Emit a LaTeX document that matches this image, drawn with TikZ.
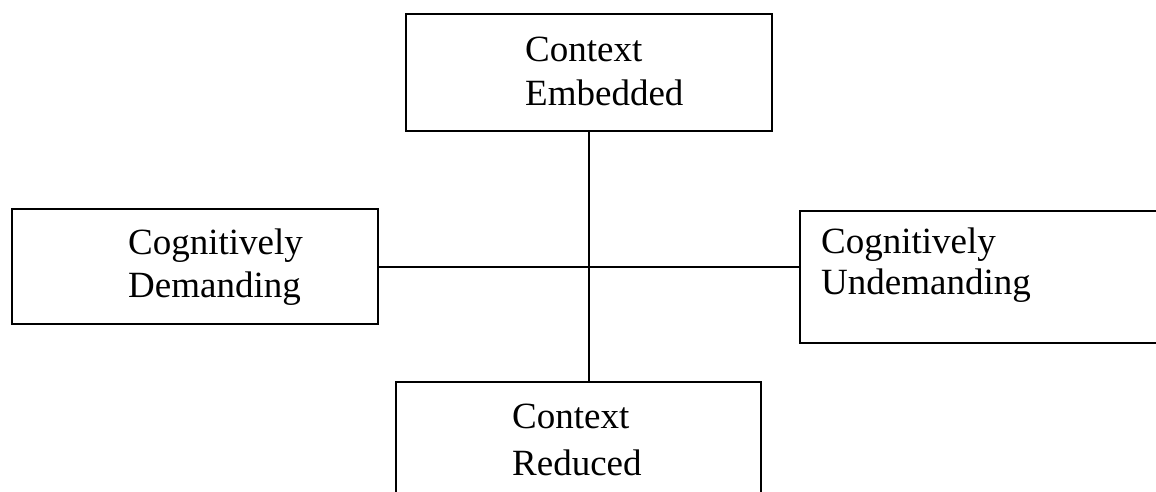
\documentclass[tikz,border=0pt]{standalone}
\usepackage{fontspec}
\setmainfont{Liberation Serif}
\begin{document}
\begin{tikzpicture}[x=1pt,y=-1pt,
  box/.style={draw, line width=2pt, rectangle, inner sep=0pt, outer sep=0pt},
  label/.style={align=left, anchor=base west, inner sep=0pt, font=\fontsize{37}{41}\selectfont},
  link/.style={line width=2pt}]
\useasboundingbox (0,0) rectangle (1156,492);
\clip (0,0) rectangle (1156,492);
\node[box, minimum width=366pt, minimum height=117pt] (top) at (589,72.5) {};
\node[box, minimum width=366pt, minimum height=115pt] (left) at (195,266.5) {};
\node[box, minimum width=370pt, minimum height=132pt] (right) at (985,277) {};
\node[box, minimum width=365pt, minimum height=128pt] (bottom) at (578.5,446) {};
\node[label] (toptext) at (525,106) {Context\\[3pt]Embedded};
\node[label] (lefttext) at (128,297) {Cognitively\\[2pt]Demanding};
\node[label] (righttext) at (821,294) {Cognitively\\[0pt]Undemanding};
\node[label] (bottomtext) at (512,475) {Context\\[6pt]Reduced};
\draw[link] (top.south) -- (top.south |- bottom.north);
\draw[link] (left.east) -- (left.east -| right.west);
\end{tikzpicture}
\end{document}
